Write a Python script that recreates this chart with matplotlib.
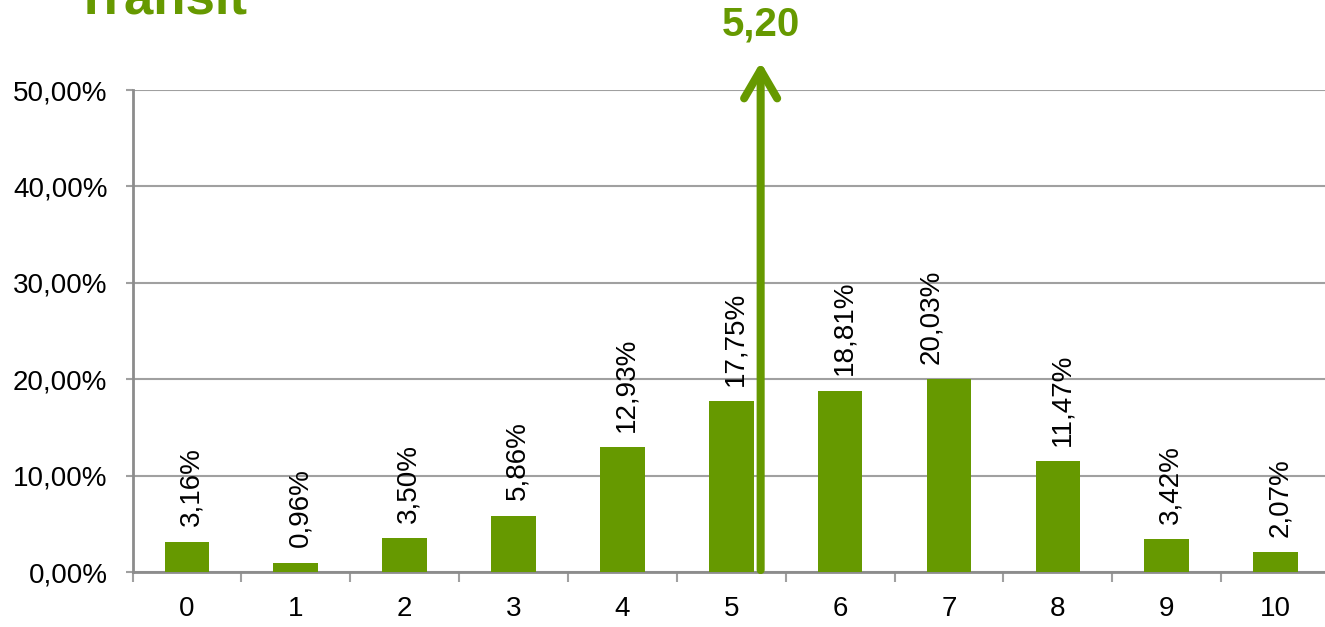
import numpy as np
import matplotlib.pyplot as plt

plt.rcParams['font.family'] = ['Liberation Sans', 'DejaVu Sans']

# data
scores = [0, 1, 2, 3, 4, 5, 6, 7, 8, 9, 10]
shares = [3.16, 0.96, 3.50, 5.86, 12.93, 17.75, 18.81, 20.03, 11.47, 3.42, 2.07]
mean_label = '5,20'
mean_pos = 5.27
arrow_top = 52.9
title = 'Transit'

green = '#669900'
grey = '#A0A0A0'

# labels that were nudged by hand in the original (x offset in points)
label_nudge = {7: -16}


def pct(v):
    return '{:.2f}%'.format(v).replace('.', ',')


fig = plt.figure(figsize=(13.25, 6.27), dpi=100)
ax = fig.add_axes([132.5 / 1325, 55 / 627, 1197.5 / 1325, 482 / 627])

x = np.arange(len(scores))
ax.bar(x, shares, width=0.41, color=green, zorder=3)

for xi, v in zip(x, shares):
    ax.annotate(pct(v), xy=(xi, v), xytext=(3 + label_nudge.get(xi, 0), 11),
                textcoords='offset points', rotation=90, ha='center',
                va='bottom', fontsize=20, color='black')

# arrow showing the mean
ax.annotate('', xy=(mean_pos, arrow_top), xytext=(mean_pos, 0.2),
            arrowprops=dict(arrowstyle='->, head_length=0.6, head_width=0.35',
                            lw=5.8, color=green, mutation_scale=34,
                            shrinkA=0, shrinkB=0,
                            capstyle='round', joinstyle='round'),
            annotation_clip=False, zorder=4)
ax.text(mean_pos, arrow_top + 2.8, mean_label, ha='center', va='baseline',
        fontsize=29, fontweight='bold', color=green, clip_on=False)

ax.set_xlim(-0.5, 10.5)
ax.set_ylim(0, 50)
ax.set_yticks(np.arange(0, 51, 10))
ax.set_yticklabels([pct(v) for v in range(0, 51, 10)], fontsize=20)
ax.set_xticks(x)
ax.set_xticklabels([str(s) for s in scores], fontsize=20)
ax.set_xticks(np.arange(-0.5, 11, 1), minor=True)
ax.tick_params(axis='x', which='major', length=0, pad=17)
ax.tick_params(axis='x', which='minor', length=7, width=1.5, color=grey)
ax.tick_params(axis='y', length=5, width=1.5, color=grey, pad=13)

ax.grid(axis='y', color=grey, lw=1.5, zorder=0)
for s in ['top', 'right']:
    ax.spines[s].set_visible(False)
for s in ['left', 'bottom']:
    ax.spines[s].set_color('#8C8C8C')
    ax.spines[s].set_linewidth(2)

fig.text(74 / 1325, 1 - 14 / 627, title, ha='left', va='baseline',
         fontsize=38, fontweight='bold', color=green)

plt.savefig('out.png', dpi=100)
